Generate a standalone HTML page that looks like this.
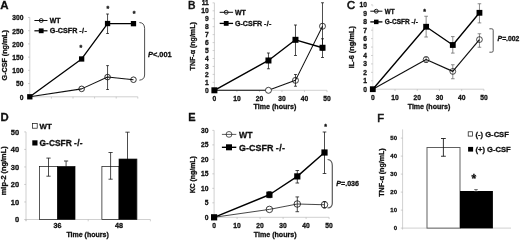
<!DOCTYPE html>
<html><head><meta charset="utf-8"><title>Figure</title>
<style>
html,body{margin:0;padding:0;background:#fff;}
body{width:520px;height:240px;overflow:hidden;}
svg{display:block;font-family:"Liberation Sans",sans-serif;fill:#111;}
text{stroke:#111;stroke-width:0.3px;}
</style></head><body>
<svg width="520" height="240" viewBox="0 0 520 240">
<defs><filter id="b" x="-2%" y="-2%" width="104%" height="104%"><feGaussianBlur stdDeviation="0.35"/></filter></defs>
<rect width="520" height="240" fill="#fff"/>
<g filter="url(#b)">
<text x="0.3" y="8.6" font-size="11.5" text-anchor="start" font-weight="bold" >A</text>
<line x1="29.8" y1="17.44999999999999" x2="29.8" y2="98.3" stroke="#b0b0b0" stroke-width="0.6"/>
<line x1="29.8" y1="96.8" x2="137.8" y2="96.8" stroke="#b0b0b0" stroke-width="0.6"/>
<line x1="29.8" y1="96.8" x2="29.8" y2="98.6" stroke="#b0b0b0" stroke-width="0.6"/>
<line x1="51.400000000000006" y1="96.8" x2="51.400000000000006" y2="98.6" stroke="#b0b0b0" stroke-width="0.6"/>
<line x1="73.0" y1="96.8" x2="73.0" y2="98.6" stroke="#b0b0b0" stroke-width="0.6"/>
<line x1="94.60000000000001" y1="96.8" x2="94.60000000000001" y2="98.6" stroke="#b0b0b0" stroke-width="0.6"/>
<line x1="116.2" y1="96.8" x2="116.2" y2="98.6" stroke="#b0b0b0" stroke-width="0.6"/>
<line x1="137.8" y1="96.8" x2="137.8" y2="98.6" stroke="#b0b0b0" stroke-width="0.6"/>
<line x1="28.0" y1="96.8" x2="29.8" y2="96.8" stroke="#b0b0b0" stroke-width="0.6"/>
<text x="23.5" y="99.712" font-size="6.7" text-anchor="end" font-weight="bold" >0</text>
<line x1="28.0" y1="83.57499999999999" x2="29.8" y2="83.57499999999999" stroke="#b0b0b0" stroke-width="0.6"/>
<text x="23.5" y="86.487" font-size="6.7" text-anchor="end" font-weight="bold" >50</text>
<line x1="28.0" y1="70.35" x2="29.8" y2="70.35" stroke="#b0b0b0" stroke-width="0.6"/>
<text x="23.5" y="73.262" font-size="6.7" text-anchor="end" font-weight="bold" >100</text>
<line x1="28.0" y1="57.12499999999999" x2="29.8" y2="57.12499999999999" stroke="#b0b0b0" stroke-width="0.6"/>
<text x="23.5" y="60.03699999999999" font-size="6.7" text-anchor="end" font-weight="bold" >150</text>
<line x1="28.0" y1="43.89999999999999" x2="29.8" y2="43.89999999999999" stroke="#b0b0b0" stroke-width="0.6"/>
<text x="23.5" y="46.81199999999999" font-size="6.7" text-anchor="end" font-weight="bold" >200</text>
<line x1="28.0" y1="30.674999999999997" x2="29.8" y2="30.674999999999997" stroke="#b0b0b0" stroke-width="0.6"/>
<text x="23.5" y="33.586999999999996" font-size="6.7" text-anchor="end" font-weight="bold" >250</text>
<line x1="28.0" y1="17.44999999999999" x2="29.8" y2="17.44999999999999" stroke="#b0b0b0" stroke-width="0.6"/>
<text x="23.5" y="20.361999999999988" font-size="6.7" text-anchor="end" font-weight="bold" >300</text>
<text transform="translate(7.3,55.2) rotate(-90)" font-size="7.15" text-anchor="middle" font-weight="bold">G-CSF (ng/mL)</text>
<line x1="107.56" y1="65.6" x2="107.56" y2="89.5" stroke="#111" stroke-width="0.75"/>
<line x1="106.16" y1="65.6" x2="108.96000000000001" y2="65.6" stroke="#111" stroke-width="0.75"/>
<line x1="106.16" y1="89.5" x2="108.96000000000001" y2="89.5" stroke="#111" stroke-width="0.75"/>
<line x1="107.56" y1="14" x2="107.56" y2="33.5" stroke="#111" stroke-width="0.75"/>
<line x1="106.16" y1="14" x2="108.96000000000001" y2="14" stroke="#111" stroke-width="0.75"/>
<line x1="106.16" y1="33.5" x2="108.96000000000001" y2="33.5" stroke="#111" stroke-width="0.75"/>
<polyline points="29.8,96.8 81.64,88.865 107.56,77.09475 133.48000000000002,79.73975" fill="none" stroke="#111" stroke-width="1.05" stroke-linejoin="round"/>
<polyline points="29.8,96.8 81.64,58.976499999999994 107.56,23.53349999999999 133.48000000000002,23.66574999999999" fill="none" stroke="#000" stroke-width="1.3" stroke-linejoin="round"/>
<circle cx="81.64" cy="88.865" r="2.8" fill="none" stroke="#111" stroke-width="0.85"/>
<circle cx="107.56" cy="77.09475" r="2.8" fill="none" stroke="#111" stroke-width="0.85"/>
<circle cx="133.48000000000002" cy="79.73975" r="2.8" fill="none" stroke="#111" stroke-width="0.85"/>
<rect x="27.150000000000002" y="94.14999999999999" width="5.3" height="5.3" fill="#000"/>
<rect x="78.99" y="56.326499999999996" width="5.3" height="5.3" fill="#000"/>
<rect x="104.91" y="20.88349999999999" width="5.3" height="5.3" fill="#000"/>
<rect x="130.83" y="21.01574999999999" width="5.3" height="5.3" fill="#000"/>
<text x="80.8" y="50.4" font-size="7" text-anchor="middle" font-weight="bold" >*</text>
<text x="107.75" y="11.0" font-size="7" text-anchor="middle" font-weight="bold" >*</text>
<text x="134" y="16.0" font-size="7" text-anchor="middle" font-weight="bold" >*</text>
<path d="M139.4 22.5 Q144.6 22.8 144.6 28.5 L144.6 75 Q144.6 79.6 139.4 80.2" fill="none" stroke="#222" stroke-width="0.8"/>
<text x="148" y="56.9" font-size="7.4" font-weight="bold"><tspan font-style="italic">P</tspan>&lt;.001</text>
<line x1="34.4" y1="20.5" x2="47.5" y2="20.5" stroke="#111" stroke-width="1.0"/>
<circle cx="41.2" cy="20.5" r="1.95" fill="none" stroke="#111" stroke-width="0.9"/>
<text x="49.8" y="23.0" font-size="6.9" text-anchor="start" font-weight="bold" >WT</text>
<line x1="34.4" y1="30.8" x2="47.5" y2="30.8" stroke="#000" stroke-width="1.2"/>
<rect x="38.800000000000004" y="28.400000000000002" width="4.8" height="4.8" fill="#000"/>
<text x="49.8" y="33.3" font-size="7.2" font-weight="bold">G-CSFR <tspan letter-spacing="0.35">-/-</tspan></text>
<text x="187.9" y="8.6" font-size="11.2" text-anchor="start" font-weight="normal" style="stroke-width:0.6px">B</text>
<line x1="214.4" y1="2.8499999999999943" x2="214.4" y2="91.8" stroke="#b0b0b0" stroke-width="0.6"/>
<line x1="214.4" y1="90.3" x2="327.0" y2="90.3" stroke="#b0b0b0" stroke-width="0.6"/>
<line x1="214.4" y1="90.3" x2="214.4" y2="92.1" stroke="#b0b0b0" stroke-width="0.6"/>
<text x="214.4" y="100.5" font-size="6.7" text-anchor="middle" font-weight="bold" >0</text>
<line x1="236.92000000000002" y1="90.3" x2="236.92000000000002" y2="92.1" stroke="#b0b0b0" stroke-width="0.6"/>
<text x="236.92000000000002" y="100.5" font-size="6.7" text-anchor="middle" font-weight="bold" >10</text>
<line x1="259.44" y1="90.3" x2="259.44" y2="92.1" stroke="#b0b0b0" stroke-width="0.6"/>
<text x="259.44" y="100.5" font-size="6.7" text-anchor="middle" font-weight="bold" >20</text>
<line x1="281.96" y1="90.3" x2="281.96" y2="92.1" stroke="#b0b0b0" stroke-width="0.6"/>
<text x="281.96" y="100.5" font-size="6.7" text-anchor="middle" font-weight="bold" >30</text>
<line x1="304.48" y1="90.3" x2="304.48" y2="92.1" stroke="#b0b0b0" stroke-width="0.6"/>
<text x="304.48" y="100.5" font-size="6.7" text-anchor="middle" font-weight="bold" >40</text>
<line x1="327.0" y1="90.3" x2="327.0" y2="92.1" stroke="#b0b0b0" stroke-width="0.6"/>
<text x="327.0" y="100.5" font-size="6.7" text-anchor="middle" font-weight="bold" >50</text>
<line x1="212.6" y1="90.3" x2="214.4" y2="90.3" stroke="#b0b0b0" stroke-width="0.6"/>
<text x="208.8" y="92.562" font-size="6.7" text-anchor="end" font-weight="bold" >0</text>
<line x1="212.6" y1="82.35" x2="214.4" y2="82.35" stroke="#b0b0b0" stroke-width="0.6"/>
<text x="208.8" y="84.612" font-size="6.7" text-anchor="end" font-weight="bold" >1</text>
<line x1="212.6" y1="74.39999999999999" x2="214.4" y2="74.39999999999999" stroke="#b0b0b0" stroke-width="0.6"/>
<text x="208.8" y="76.66199999999999" font-size="6.7" text-anchor="end" font-weight="bold" >2</text>
<line x1="212.6" y1="66.44999999999999" x2="214.4" y2="66.44999999999999" stroke="#b0b0b0" stroke-width="0.6"/>
<text x="208.8" y="68.71199999999999" font-size="6.7" text-anchor="end" font-weight="bold" >3</text>
<line x1="212.6" y1="58.5" x2="214.4" y2="58.5" stroke="#b0b0b0" stroke-width="0.6"/>
<text x="208.8" y="60.762" font-size="6.7" text-anchor="end" font-weight="bold" >4</text>
<line x1="212.6" y1="50.55" x2="214.4" y2="50.55" stroke="#b0b0b0" stroke-width="0.6"/>
<text x="208.8" y="52.812" font-size="6.7" text-anchor="end" font-weight="bold" >5</text>
<line x1="212.6" y1="42.599999999999994" x2="214.4" y2="42.599999999999994" stroke="#b0b0b0" stroke-width="0.6"/>
<text x="208.8" y="44.861999999999995" font-size="6.7" text-anchor="end" font-weight="bold" >6</text>
<line x1="212.6" y1="34.65" x2="214.4" y2="34.65" stroke="#b0b0b0" stroke-width="0.6"/>
<text x="208.8" y="36.912" font-size="6.7" text-anchor="end" font-weight="bold" >7</text>
<line x1="212.6" y1="26.699999999999996" x2="214.4" y2="26.699999999999996" stroke="#b0b0b0" stroke-width="0.6"/>
<text x="208.8" y="28.961999999999996" font-size="6.7" text-anchor="end" font-weight="bold" >8</text>
<line x1="212.6" y1="18.75" x2="214.4" y2="18.75" stroke="#b0b0b0" stroke-width="0.6"/>
<text x="208.8" y="21.012" font-size="6.7" text-anchor="end" font-weight="bold" >9</text>
<line x1="212.6" y1="10.799999999999997" x2="214.4" y2="10.799999999999997" stroke="#b0b0b0" stroke-width="0.6"/>
<text x="208.8" y="13.061999999999996" font-size="6.7" text-anchor="end" font-weight="bold" >10</text>
<line x1="212.6" y1="2.8499999999999943" x2="214.4" y2="2.8499999999999943" stroke="#b0b0b0" stroke-width="0.6"/>
<text x="208.8" y="5.111999999999994" font-size="6.7" text-anchor="end" font-weight="bold" >11</text>
<text x="275" y="108.7" font-size="7.1" text-anchor="middle" font-weight="bold" >Time (hours)</text>
<text transform="translate(195.0,46.3) rotate(-90)" font-size="7.05" text-anchor="middle" font-weight="bold">TNF-α (ng/mL)</text>
<line x1="268.448" y1="53" x2="268.448" y2="68.75" stroke="#111" stroke-width="0.75"/>
<line x1="266.948" y1="53" x2="269.948" y2="53" stroke="#111" stroke-width="0.75"/>
<line x1="266.948" y1="68.75" x2="269.948" y2="68.75" stroke="#111" stroke-width="0.75"/>
<line x1="295.472" y1="25" x2="295.472" y2="55.5" stroke="#111" stroke-width="0.75"/>
<line x1="293.972" y1="25" x2="296.972" y2="25" stroke="#111" stroke-width="0.75"/>
<line x1="293.972" y1="55.5" x2="296.972" y2="55.5" stroke="#111" stroke-width="0.75"/>
<line x1="322.496" y1="38.75" x2="322.496" y2="57.5" stroke="#111" stroke-width="0.75"/>
<line x1="320.996" y1="38.75" x2="323.996" y2="38.75" stroke="#111" stroke-width="0.75"/>
<line x1="320.996" y1="57.5" x2="323.996" y2="57.5" stroke="#111" stroke-width="0.75"/>
<line x1="295.472" y1="74.5" x2="295.472" y2="86.25" stroke="#111" stroke-width="0.75"/>
<line x1="293.972" y1="74.5" x2="296.972" y2="74.5" stroke="#111" stroke-width="0.75"/>
<line x1="293.972" y1="86.25" x2="296.972" y2="86.25" stroke="#111" stroke-width="0.75"/>
<line x1="322.496" y1="2.75" x2="322.496" y2="50" stroke="#111" stroke-width="0.75"/>
<line x1="320.996" y1="2.75" x2="323.996" y2="2.75" stroke="#111" stroke-width="0.75"/>
<line x1="320.996" y1="50" x2="323.996" y2="50" stroke="#111" stroke-width="0.75"/>
<polyline points="214.4,90.3 268.448,90.3 295.472,80.3625 322.496,26.222999999999985" fill="none" stroke="#111" stroke-width="1.05" stroke-linejoin="round"/>
<polyline points="214.4,90.3 268.448,60.4875 295.472,39.817499999999995 322.496,47.7675" fill="none" stroke="#000" stroke-width="1.4" stroke-linejoin="round"/>
<circle cx="268.448" cy="90.3" r="3.0" fill="#fff" stroke="#111" stroke-width="0.8"/>
<circle cx="295.472" cy="80.3625" r="3.0" fill="none" stroke="#111" stroke-width="0.8"/>
<circle cx="322.496" cy="26.222999999999985" r="3.0" fill="none" stroke="#111" stroke-width="0.8"/>
<rect x="211.4" y="87.3" width="6" height="6" fill="#000"/>
<rect x="265.448" y="57.4875" width="6" height="6" fill="#000"/>
<rect x="292.472" y="36.817499999999995" width="6" height="6" fill="#000"/>
<rect x="319.496" y="44.7675" width="6" height="6" fill="#000"/>
<line x1="219.7" y1="12.3" x2="233.1" y2="12.3" stroke="#111" stroke-width="1.0"/>
<circle cx="226.2" cy="12.3" r="1.95" fill="none" stroke="#111" stroke-width="0.9"/>
<text x="234.9" y="14.8" font-size="7.0" text-anchor="start" font-weight="bold" >WT</text>
<line x1="219.7" y1="23.4" x2="233.1" y2="23.4" stroke="#000" stroke-width="1.3"/>
<rect x="223.79999999999998" y="21.0" width="4.8" height="4.8" fill="#000"/>
<text x="234.9" y="25.9" font-size="7.1" font-weight="bold">G-CSFR <tspan letter-spacing="0.35">-/-</tspan></text>
<text x="347.0" y="8.6" font-size="11.2" text-anchor="start" font-weight="normal" style="stroke-width:0.6px">C</text>
<line x1="372.8" y1="4.900000000000006" x2="372.8" y2="90.7" stroke="#cfcfcf" stroke-width="0.6"/>
<line x1="372.8" y1="89.2" x2="483.9" y2="89.2" stroke="#b0b0b0" stroke-width="0.6"/>
<line x1="372.8" y1="89.2" x2="372.8" y2="91.0" stroke="#b0b0b0" stroke-width="0.6"/>
<text x="372.8" y="100.25" font-size="6.7" text-anchor="middle" font-weight="bold" >0</text>
<line x1="395.02" y1="89.2" x2="395.02" y2="91.0" stroke="#b0b0b0" stroke-width="0.6"/>
<text x="395.02" y="100.25" font-size="6.7" text-anchor="middle" font-weight="bold" >10</text>
<line x1="417.24" y1="89.2" x2="417.24" y2="91.0" stroke="#b0b0b0" stroke-width="0.6"/>
<text x="417.24" y="100.25" font-size="6.7" text-anchor="middle" font-weight="bold" >20</text>
<line x1="439.46000000000004" y1="89.2" x2="439.46000000000004" y2="91.0" stroke="#b0b0b0" stroke-width="0.6"/>
<text x="439.46000000000004" y="100.25" font-size="6.7" text-anchor="middle" font-weight="bold" >30</text>
<line x1="461.68" y1="89.2" x2="461.68" y2="91.0" stroke="#b0b0b0" stroke-width="0.6"/>
<text x="461.68" y="100.25" font-size="6.7" text-anchor="middle" font-weight="bold" >40</text>
<line x1="483.9" y1="89.2" x2="483.9" y2="91.0" stroke="#b0b0b0" stroke-width="0.6"/>
<text x="483.9" y="100.25" font-size="6.7" text-anchor="middle" font-weight="bold" >50</text>
<line x1="371.0" y1="89.2" x2="372.8" y2="89.2" stroke="#b0b0b0" stroke-width="0.6"/>
<text x="367.0" y="91.61200000000001" font-size="6.7" text-anchor="end" font-weight="bold" >0</text>
<line x1="371.0" y1="80.77000000000001" x2="372.8" y2="80.77000000000001" stroke="#b0b0b0" stroke-width="0.6"/>
<text x="367.0" y="83.18200000000002" font-size="6.7" text-anchor="end" font-weight="bold" >1</text>
<line x1="371.0" y1="72.34" x2="372.8" y2="72.34" stroke="#b0b0b0" stroke-width="0.6"/>
<text x="367.0" y="74.75200000000001" font-size="6.7" text-anchor="end" font-weight="bold" >2</text>
<line x1="371.0" y1="63.910000000000004" x2="372.8" y2="63.910000000000004" stroke="#b0b0b0" stroke-width="0.6"/>
<text x="367.0" y="66.322" font-size="6.7" text-anchor="end" font-weight="bold" >3</text>
<line x1="371.0" y1="55.480000000000004" x2="372.8" y2="55.480000000000004" stroke="#b0b0b0" stroke-width="0.6"/>
<text x="367.0" y="57.892" font-size="6.7" text-anchor="end" font-weight="bold" >4</text>
<line x1="371.0" y1="47.050000000000004" x2="372.8" y2="47.050000000000004" stroke="#b0b0b0" stroke-width="0.6"/>
<text x="367.0" y="49.462" font-size="6.7" text-anchor="end" font-weight="bold" >5</text>
<line x1="371.0" y1="38.620000000000005" x2="372.8" y2="38.620000000000005" stroke="#b0b0b0" stroke-width="0.6"/>
<text x="367.0" y="41.032000000000004" font-size="6.7" text-anchor="end" font-weight="bold" >6</text>
<line x1="371.0" y1="30.190000000000005" x2="372.8" y2="30.190000000000005" stroke="#b0b0b0" stroke-width="0.6"/>
<text x="367.0" y="32.602000000000004" font-size="6.7" text-anchor="end" font-weight="bold" >7</text>
<line x1="371.0" y1="21.760000000000005" x2="372.8" y2="21.760000000000005" stroke="#b0b0b0" stroke-width="0.6"/>
<text x="367.0" y="24.172000000000004" font-size="6.7" text-anchor="end" font-weight="bold" >8</text>
<line x1="371.0" y1="13.329999999999998" x2="372.8" y2="13.329999999999998" stroke="#b0b0b0" stroke-width="0.6"/>
<text x="367.0" y="15.741999999999997" font-size="6.7" text-anchor="end" font-weight="bold" >9</text>
<line x1="371.0" y1="4.900000000000006" x2="372.8" y2="4.900000000000006" stroke="#b0b0b0" stroke-width="0.6"/>
<text x="367.0" y="7.312000000000006" font-size="6.7" text-anchor="end" font-weight="bold" >10</text>
<text x="429.0" y="108.8" font-size="7.05" text-anchor="middle" font-weight="bold" >Time (hours)</text>
<text transform="translate(353.6,47.2) rotate(-90)" font-size="7.4" text-anchor="middle" font-weight="bold">IL-6 (ng/mL)</text>
<line x1="426.12800000000004" y1="16.25" x2="426.12800000000004" y2="37" stroke="#666" stroke-width="0.75"/>
<line x1="424.32800000000003" y1="16.25" x2="427.92800000000005" y2="16.25" stroke="#666" stroke-width="0.75"/>
<line x1="424.32800000000003" y1="37" x2="427.92800000000005" y2="37" stroke="#666" stroke-width="0.75"/>
<line x1="452.79200000000003" y1="36.6" x2="452.79200000000003" y2="53.1" stroke="#666" stroke-width="0.75"/>
<line x1="450.992" y1="36.6" x2="454.59200000000004" y2="36.6" stroke="#666" stroke-width="0.75"/>
<line x1="450.992" y1="53.1" x2="454.59200000000004" y2="53.1" stroke="#666" stroke-width="0.75"/>
<line x1="479.456" y1="3.75" x2="479.456" y2="22.9" stroke="#666" stroke-width="0.75"/>
<line x1="477.656" y1="3.75" x2="481.25600000000003" y2="3.75" stroke="#666" stroke-width="0.75"/>
<line x1="477.656" y1="22.9" x2="481.25600000000003" y2="22.9" stroke="#666" stroke-width="0.75"/>
<line x1="479.456" y1="33.75" x2="479.456" y2="47.25" stroke="#666" stroke-width="0.75"/>
<line x1="477.656" y1="33.75" x2="481.25600000000003" y2="33.75" stroke="#666" stroke-width="0.75"/>
<line x1="477.656" y1="47.25" x2="481.25600000000003" y2="47.25" stroke="#666" stroke-width="0.75"/>
<line x1="452.79200000000003" y1="64.75" x2="452.79200000000003" y2="78.75" stroke="#666" stroke-width="0.75"/>
<line x1="450.992" y1="64.75" x2="454.59200000000004" y2="64.75" stroke="#666" stroke-width="0.75"/>
<line x1="450.992" y1="78.75" x2="454.59200000000004" y2="78.75" stroke="#666" stroke-width="0.75"/>
<line x1="426.12800000000004" y1="57" x2="426.12800000000004" y2="62.5" stroke="#666" stroke-width="0.75"/>
<line x1="424.32800000000003" y1="57" x2="427.92800000000005" y2="57" stroke="#666" stroke-width="0.75"/>
<line x1="424.32800000000003" y1="62.5" x2="427.92800000000005" y2="62.5" stroke="#666" stroke-width="0.75"/>
<polyline points="372.8,89.2 426.12800000000004,59.5 452.79200000000003,71.4 479.456,39.6" fill="none" stroke="#111" stroke-width="1.15" stroke-linejoin="round"/>
<polyline points="372.8,89.2 426.12800000000004,26.75 452.79200000000003,45 479.456,12.8" fill="none" stroke="#000" stroke-width="1.35" stroke-linejoin="round"/>
<circle cx="426.12800000000004" cy="59.5" r="2.9" fill="none" stroke="#111" stroke-width="0.75"/>
<circle cx="452.79200000000003" cy="71.4" r="2.9" fill="none" stroke="#111" stroke-width="0.75"/>
<circle cx="479.456" cy="39.6" r="2.9" fill="none" stroke="#111" stroke-width="0.75"/>
<rect x="369.90000000000003" y="86.3" width="5.8" height="5.8" fill="#000"/>
<rect x="423.22800000000007" y="23.85" width="5.8" height="5.8" fill="#000"/>
<rect x="449.89200000000005" y="42.1" width="5.8" height="5.8" fill="#000"/>
<rect x="476.55600000000004" y="9.9" width="5.8" height="5.8" fill="#000"/>
<text x="424.5" y="14.3" font-size="7" text-anchor="middle" font-weight="bold" >*</text>
<path d="M489.4 28.8 L491.8 28.8 Q493.2 28.8 493.2 30.2 L493.2 50.8 Q493.2 52.2 491.8 52.2 L489.4 52.2" fill="none" stroke="#444" stroke-width="0.9"/>
<text x="497.6" y="41" font-size="6.8" font-weight="bold"><tspan font-style="italic">P</tspan>=.002</text>
<rect x="369" y="6.5" width="50" height="20.5" fill="#fff"/>
<line x1="370.3" y1="11.2" x2="382.4" y2="11.2" stroke="#111" stroke-width="1.0"/>
<circle cx="376.25" cy="11.2" r="1.95" fill="none" stroke="#111" stroke-width="0.9"/>
<text x="384.8" y="13.5" font-size="6.3" text-anchor="start" font-weight="bold" >WT</text>
<line x1="370.3" y1="21.9" x2="382.4" y2="21.9" stroke="#000" stroke-width="1.3"/>
<rect x="374.0" y="19.65" width="4.5" height="4.5" fill="#000"/>
<text x="384.8" y="24.2" font-size="6.5" font-weight="bold">G-CSFR <tspan letter-spacing="0.1">-/-</tspan></text>
<text x="0.6" y="121.4" font-size="11.3" text-anchor="start" font-weight="bold" >D</text>
<line x1="26.0" y1="131.9" x2="26.0" y2="221.0" stroke="#b0b0b0" stroke-width="0.6"/>
<line x1="26.0" y1="219.5" x2="150.4" y2="219.5" stroke="#b0b0b0" stroke-width="0.6"/>
<line x1="26.0" y1="219.5" x2="26.0" y2="221.3" stroke="#b0b0b0" stroke-width="0.6"/>
<line x1="88.2" y1="219.5" x2="88.2" y2="221.3" stroke="#b0b0b0" stroke-width="0.6"/>
<line x1="150.4" y1="219.5" x2="150.4" y2="221.3" stroke="#b0b0b0" stroke-width="0.6"/>
<line x1="24.2" y1="219.5" x2="26.0" y2="219.5" stroke="#b0b0b0" stroke-width="0.6"/>
<text x="19.2" y="222.25" font-size="7.5" text-anchor="end" font-weight="bold" >0</text>
<line x1="24.2" y1="201.98" x2="26.0" y2="201.98" stroke="#b0b0b0" stroke-width="0.6"/>
<text x="19.2" y="204.73" font-size="7.5" text-anchor="end" font-weight="bold" >10</text>
<line x1="24.2" y1="184.46" x2="26.0" y2="184.46" stroke="#b0b0b0" stroke-width="0.6"/>
<text x="19.2" y="187.21" font-size="7.5" text-anchor="end" font-weight="bold" >20</text>
<line x1="24.2" y1="166.94" x2="26.0" y2="166.94" stroke="#b0b0b0" stroke-width="0.6"/>
<text x="19.2" y="169.69" font-size="7.5" text-anchor="end" font-weight="bold" >30</text>
<line x1="24.2" y1="149.42000000000002" x2="26.0" y2="149.42000000000002" stroke="#b0b0b0" stroke-width="0.6"/>
<text x="19.2" y="152.17000000000002" font-size="7.5" text-anchor="end" font-weight="bold" >40</text>
<line x1="24.2" y1="131.9" x2="26.0" y2="131.9" stroke="#b0b0b0" stroke-width="0.6"/>
<text x="19.2" y="134.65" font-size="7.5" text-anchor="end" font-weight="bold" >50</text>
<line x1="66.1" y1="161" x2="66.1" y2="172.5" stroke="#111" stroke-width="0.75"/>
<line x1="63.99999999999999" y1="161" x2="68.19999999999999" y2="161" stroke="#111" stroke-width="0.75"/>
<line x1="63.99999999999999" y1="172.5" x2="68.19999999999999" y2="172.5" stroke="#111" stroke-width="0.75"/>
<line x1="127.5" y1="132.2" x2="127.5" y2="187" stroke="#111" stroke-width="0.75"/>
<line x1="125.4" y1="132.2" x2="129.6" y2="132.2" stroke="#111" stroke-width="0.75"/>
<line x1="125.4" y1="187" x2="129.6" y2="187" stroke="#111" stroke-width="0.75"/>
<rect x="39.6" y="166.4144" width="17.9" height="53.0856" fill="#fff" stroke="#111" stroke-width="0.7"/>
<rect x="57.5" y="166.4144" width="17.5" height="53.0856" fill="#000" stroke="#111" stroke-width="0.7"/>
<rect x="101.9" y="166.4144" width="17.099999999999994" height="53.0856" fill="#fff" stroke="#111" stroke-width="0.7"/>
<rect x="119" y="159.05599999999998" width="17.900000000000006" height="60.44400000000002" fill="#000" stroke="#111" stroke-width="0.7"/>
<line x1="48.5" y1="158.1" x2="48.5" y2="176.2" stroke="#111" stroke-width="0.75"/>
<line x1="46.4" y1="158.1" x2="50.6" y2="158.1" stroke="#111" stroke-width="0.75"/>
<line x1="46.4" y1="176.2" x2="50.6" y2="176.2" stroke="#111" stroke-width="0.75"/>
<line x1="110.6" y1="152.5" x2="110.6" y2="179.2" stroke="#111" stroke-width="0.75"/>
<line x1="108.5" y1="152.5" x2="112.69999999999999" y2="152.5" stroke="#111" stroke-width="0.75"/>
<line x1="108.5" y1="179.2" x2="112.69999999999999" y2="179.2" stroke="#111" stroke-width="0.75"/>
<text x="57.5" y="228.4" font-size="7.2" text-anchor="middle" font-weight="bold" >36</text>
<text x="119" y="228.4" font-size="7.2" text-anchor="middle" font-weight="bold" >48</text>
<text x="87.6" y="236.9" font-size="7.0" text-anchor="middle" font-weight="bold" >Time (hours)</text>
<text transform="translate(5.6,170.8) rotate(-90)" font-size="7.4" text-anchor="middle" font-weight="bold">mip-2 (ng/mL)</text>
<rect x="32.6" y="123.5" width="4.6" height="4.7" fill="#fff" stroke="#111" stroke-width="0.7"/>
<text x="39.6" y="128.6" font-size="7.9" text-anchor="start" font-weight="bold" >WT</text>
<rect x="32.3" y="140.3" width="5.2" height="5.2" fill="#000"/>
<text x="39.6" y="145.6" font-size="8.4" font-weight="bold">G-CSFR <tspan letter-spacing="0.35">-/-</tspan></text>
<text x="188.3" y="121.4" font-size="11.0" text-anchor="start" font-weight="bold" >E</text>
<line x1="214.1" y1="130.39000000000001" x2="214.1" y2="218.8" stroke="#b0b0b0" stroke-width="0.6"/>
<line x1="214.1" y1="217.3" x2="329.09999999999997" y2="217.3" stroke="#b0b0b0" stroke-width="0.6"/>
<line x1="214.1" y1="217.3" x2="214.1" y2="219.10000000000002" stroke="#b0b0b0" stroke-width="0.6"/>
<text x="214.1" y="228.0" font-size="6.7" text-anchor="middle" font-weight="bold" >0</text>
<line x1="237.1" y1="217.3" x2="237.1" y2="219.10000000000002" stroke="#b0b0b0" stroke-width="0.6"/>
<text x="237.1" y="228.0" font-size="6.7" text-anchor="middle" font-weight="bold" >10</text>
<line x1="260.1" y1="217.3" x2="260.1" y2="219.10000000000002" stroke="#b0b0b0" stroke-width="0.6"/>
<text x="260.1" y="228.0" font-size="6.7" text-anchor="middle" font-weight="bold" >20</text>
<line x1="283.1" y1="217.3" x2="283.1" y2="219.10000000000002" stroke="#b0b0b0" stroke-width="0.6"/>
<text x="283.1" y="228.0" font-size="6.7" text-anchor="middle" font-weight="bold" >30</text>
<line x1="306.1" y1="217.3" x2="306.1" y2="219.10000000000002" stroke="#b0b0b0" stroke-width="0.6"/>
<text x="306.1" y="228.0" font-size="6.7" text-anchor="middle" font-weight="bold" >40</text>
<line x1="329.09999999999997" y1="217.3" x2="329.09999999999997" y2="219.10000000000002" stroke="#b0b0b0" stroke-width="0.6"/>
<text x="329.09999999999997" y="228.0" font-size="6.7" text-anchor="middle" font-weight="bold" >50</text>
<line x1="212.29999999999998" y1="217.3" x2="214.1" y2="217.3" stroke="#b0b0b0" stroke-width="0.6"/>
<text x="208.4" y="219.71200000000002" font-size="6.7" text-anchor="end" font-weight="bold" >0</text>
<line x1="212.29999999999998" y1="202.815" x2="214.1" y2="202.815" stroke="#b0b0b0" stroke-width="0.6"/>
<text x="208.4" y="205.227" font-size="6.7" text-anchor="end" font-weight="bold" >5</text>
<line x1="212.29999999999998" y1="188.33" x2="214.1" y2="188.33" stroke="#b0b0b0" stroke-width="0.6"/>
<text x="208.4" y="190.74200000000002" font-size="6.7" text-anchor="end" font-weight="bold" >10</text>
<line x1="212.29999999999998" y1="173.84500000000003" x2="214.1" y2="173.84500000000003" stroke="#b0b0b0" stroke-width="0.6"/>
<text x="208.4" y="176.25700000000003" font-size="6.7" text-anchor="end" font-weight="bold" >15</text>
<line x1="212.29999999999998" y1="159.36" x2="214.1" y2="159.36" stroke="#b0b0b0" stroke-width="0.6"/>
<text x="208.4" y="161.77200000000002" font-size="6.7" text-anchor="end" font-weight="bold" >20</text>
<line x1="212.29999999999998" y1="144.875" x2="214.1" y2="144.875" stroke="#b0b0b0" stroke-width="0.6"/>
<text x="208.4" y="147.287" font-size="6.7" text-anchor="end" font-weight="bold" >25</text>
<line x1="212.29999999999998" y1="130.39000000000001" x2="214.1" y2="130.39000000000001" stroke="#b0b0b0" stroke-width="0.6"/>
<text x="208.4" y="132.80200000000002" font-size="6.7" text-anchor="end" font-weight="bold" >30</text>
<text x="275.2" y="237.4" font-size="7.1" text-anchor="middle" font-weight="bold" >Time (hours)</text>
<text transform="translate(194.5,174.8) rotate(-90)" font-size="6.9" text-anchor="middle" font-weight="bold">KC (ng/mL)</text>
<line x1="324.5" y1="132" x2="324.5" y2="173.5" stroke="#111" stroke-width="0.75"/>
<line x1="322.7" y1="132" x2="326.3" y2="132" stroke="#111" stroke-width="0.75"/>
<line x1="322.7" y1="173.5" x2="326.3" y2="173.5" stroke="#111" stroke-width="0.75"/>
<line x1="297.3" y1="170.5" x2="297.3" y2="183" stroke="#111" stroke-width="0.75"/>
<line x1="295.5" y1="170.5" x2="299.1" y2="170.5" stroke="#111" stroke-width="0.75"/>
<line x1="295.5" y1="183" x2="299.1" y2="183" stroke="#111" stroke-width="0.75"/>
<line x1="297.3" y1="196.9" x2="297.3" y2="211.7" stroke="#111" stroke-width="0.75"/>
<line x1="295.5" y1="196.9" x2="299.1" y2="196.9" stroke="#111" stroke-width="0.75"/>
<line x1="295.5" y1="211.7" x2="299.1" y2="211.7" stroke="#111" stroke-width="0.75"/>
<line x1="269.4" y1="191.7" x2="269.4" y2="197.7" stroke="#111" stroke-width="0.75"/>
<line x1="267.59999999999997" y1="191.7" x2="271.2" y2="191.7" stroke="#111" stroke-width="0.75"/>
<line x1="267.59999999999997" y1="197.7" x2="271.2" y2="197.7" stroke="#111" stroke-width="0.75"/>
<line x1="324.5" y1="201.6" x2="324.5" y2="207.9" stroke="#111" stroke-width="0.75"/>
<line x1="323.0" y1="201.6" x2="326.0" y2="201.6" stroke="#111" stroke-width="0.75"/>
<line x1="323.0" y1="207.9" x2="326.0" y2="207.9" stroke="#111" stroke-width="0.75"/>
<polyline points="214.1,217.3 269.4,209.4 297.3,204.0 324.5,204.75" fill="none" stroke="#333" stroke-width="0.9" stroke-linejoin="round"/>
<polyline points="214.1,217.3 269.4,194.75 297.3,176.4 324.5,152.5" fill="none" stroke="#000" stroke-width="1.4" stroke-linejoin="round"/>
<circle cx="269.4" cy="209.4" r="3.25" fill="none" stroke="#111" stroke-width="0.8"/>
<circle cx="297.3" cy="204.0" r="3.25" fill="none" stroke="#111" stroke-width="0.8"/>
<circle cx="324.5" cy="204.75" r="3.25" fill="none" stroke="#111" stroke-width="0.8"/>
<rect x="211.0" y="214.20000000000002" width="6.2" height="6.2" fill="#000"/>
<rect x="266.29999999999995" y="191.65" width="6.2" height="6.2" fill="#000"/>
<rect x="294.2" y="173.3" width="6.2" height="6.2" fill="#000"/>
<rect x="321.4" y="149.4" width="6.2" height="6.2" fill="#000"/>
<text x="325.5" y="128.7" font-size="7" text-anchor="middle" font-weight="bold" >*</text>
<path d="M327.6 159.5 Q332.3 160 332.3 165.5 L332.3 203.2 Q332.3 207.6 327.6 208" fill="none" stroke="#5a5a5a" stroke-width="1.2"/>
<text x="336.3" y="185.6" font-size="7.1" font-weight="bold"><tspan font-style="italic">P</tspan>=.036</text>
<line x1="221.9" y1="134.4" x2="236.3" y2="134.4" stroke="#333" stroke-width="0.8"/>
<circle cx="229" cy="134.4" r="2.9" fill="none" stroke="#111" stroke-width="0.7"/>
<text x="239.1" y="137.6" font-size="8.7" text-anchor="start" font-weight="bold" >WT</text>
<line x1="221.9" y1="147.3" x2="236.3" y2="147.3" stroke="#000" stroke-width="1.4"/>
<rect x="226.0" y="144.3" width="6" height="6" fill="#000"/>
<text x="239.1" y="150.5" font-size="8.95" font-weight="bold">G-CSFR <tspan letter-spacing="0.35">-/-</tspan></text>
<text x="377.3" y="121.6" font-size="11.0" text-anchor="start" font-weight="normal" style="stroke-width:0.6px">F</text>
<line x1="402.6" y1="129.4" x2="402.6" y2="229.6" stroke="#b0b0b0" stroke-width="0.6"/>
<line x1="402.6" y1="228.1" x2="511" y2="228.1" stroke="#b0b0b0" stroke-width="0.6"/>
<line x1="400.8" y1="228.1" x2="402.6" y2="228.1" stroke="#b0b0b0" stroke-width="0.6"/>
<text x="397.0" y="229.95" font-size="6.0" text-anchor="end" font-weight="bold" >0</text>
<line x1="400.8" y1="210.1" x2="402.6" y2="210.1" stroke="#b0b0b0" stroke-width="0.6"/>
<text x="397.0" y="211.95" font-size="6.0" text-anchor="end" font-weight="bold" >10</text>
<line x1="400.8" y1="192.1" x2="402.6" y2="192.1" stroke="#b0b0b0" stroke-width="0.6"/>
<text x="397.0" y="193.95" font-size="6.0" text-anchor="end" font-weight="bold" >20</text>
<line x1="400.8" y1="174.1" x2="402.6" y2="174.1" stroke="#b0b0b0" stroke-width="0.6"/>
<text x="397.0" y="175.95" font-size="6.0" text-anchor="end" font-weight="bold" >30</text>
<line x1="400.8" y1="156.1" x2="402.6" y2="156.1" stroke="#b0b0b0" stroke-width="0.6"/>
<text x="397.0" y="157.95" font-size="6.0" text-anchor="end" font-weight="bold" >40</text>
<line x1="400.8" y1="138.1" x2="402.6" y2="138.1" stroke="#b0b0b0" stroke-width="0.6"/>
<text x="397.0" y="139.95" font-size="6.0" text-anchor="end" font-weight="bold" >50</text>
<rect x="427.0" y="147.5" width="33" height="80.6" fill="#fff" stroke="#5a5a5a" stroke-width="0.95"/>
<rect x="460" y="191.0" width="32.9" height="37.39999999999999" fill="#000"/>
<line x1="443.4" y1="138.5" x2="443.4" y2="156.25" stroke="#111" stroke-width="0.85"/>
<line x1="441.0" y1="138.5" x2="445.79999999999995" y2="138.5" stroke="#111" stroke-width="0.85"/>
<line x1="441.0" y1="156.25" x2="445.79999999999995" y2="156.25" stroke="#111" stroke-width="0.85"/>
<line x1="476" y1="189.6" x2="476" y2="191.5" stroke="#333" stroke-width="0.7"/>
<line x1="474.2" y1="189.6" x2="477.8" y2="189.6" stroke="#333" stroke-width="0.7"/>
<line x1="474.2" y1="191.5" x2="477.8" y2="191.5" stroke="#333" stroke-width="0.7"/>
<text x="473.8" y="182.6" font-size="12" text-anchor="middle" font-weight="bold" >*</text>
<text transform="translate(384.2,172.5) rotate(-90)" font-size="7.1" text-anchor="middle" font-weight="bold">TNF-α (ng/mL)</text>
<rect x="468.2" y="131.8" width="4.2" height="4.3" fill="#fff" stroke="#111" stroke-width="0.7"/>
<text x="475.5" y="136.6" font-size="7.6" text-anchor="start" font-weight="bold" >(-) G-CSF</text>
<rect x="468.1" y="146.9" width="5.0" height="4.7" fill="#000"/>
<text x="475.5" y="151.8" font-size="7.6" text-anchor="start" font-weight="bold" >(+) G-CSF</text>
</g>
</svg>
</body></html>
